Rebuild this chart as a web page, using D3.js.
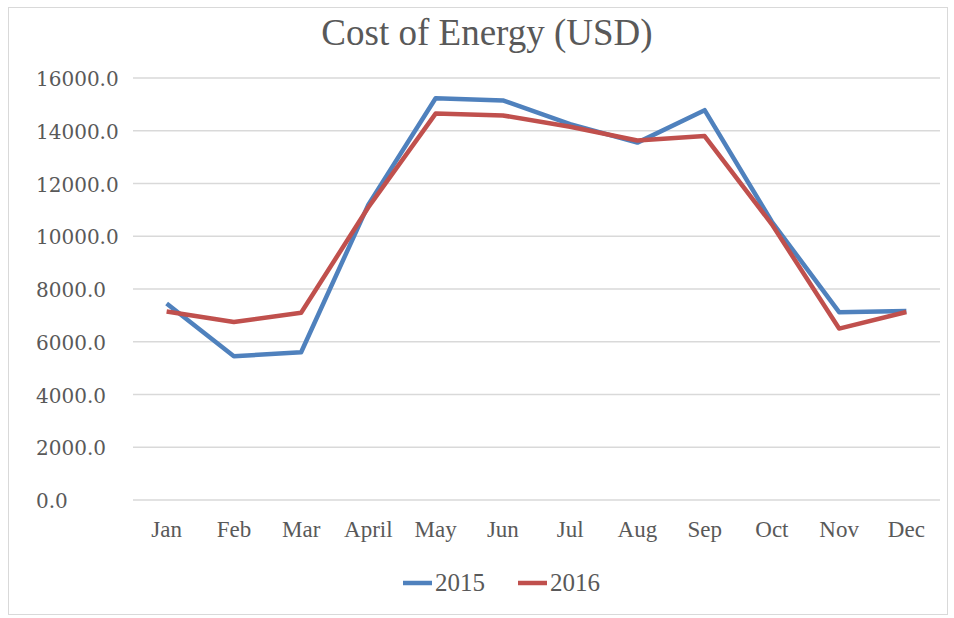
<!DOCTYPE html>
<html><head><meta charset="utf-8">
<script src="https://cdn.jsdelivr.net/npm/d3@7"></script>
<style>body{margin:0;background:#fff}svg{display:block}</style>
</head><body>
<svg id="c" width="954" height="618"></svg>
<script>
const months = ["Jan","Feb","Mar","April","May","Jun","Jul","Aug","Sep","Oct","Nov","Dec"];
const values2015 = [7450, 5450, 5600, 11200, 15230, 15150, 14250, 13550, 14780, 10550, 7120, 7170];
const values2016 = [7150, 6750, 7100, 11100, 14650, 14580, 14150, 13630, 13800, 10450, 6500, 7130];
const seriesNames = ["2015","2016"];
const seriesColors = ["#4F81BD","#C0504D"];
const yTicks = [0,2000,4000,6000,8000,10000,12000,14000,16000];

const svg = d3.select("#c");
const font = "'Liberation Serif', 'DejaVu Serif', serif";
const numFont = "'DejaVu Serif', 'Liberation Serif', serif";
svg.append("rect").attr("x",8.5).attr("y",7.5).attr("width",939).attr("height",607)
  .attr("fill","#fff").attr("stroke","#d9d9d9").attr("stroke-width",1);

const x = d3.scaleBand().domain(months).range([133,940]);
const y = d3.scaleLinear().domain([0,16000]).range([500,78]);

// gridlines
svg.append("g").selectAll("line").data(yTicks).join("line")
  .attr("x1",133).attr("x2",940).attr("y1",d=>y(d)).attr("y2",d=>y(d))
  .attr("stroke","#d9d9d9").attr("stroke-width",1.5);

// y axis labels (left aligned, as in the reference)
const yAxis = d3.axisLeft(y).tickValues(yTicks).tickFormat(d3.format(".1f")).tickSize(0).tickPadding(0);
const gy = svg.append("g").attr("transform","translate(36,0)").call(yAxis);
gy.select(".domain").remove();
gy.selectAll("text").attr("font-family",numFont).attr("font-size",20).attr("fill","#595959")
  .attr("text-anchor","start").attr("x",0).attr("dy","0.38em");

// x axis labels
const xAxis = d3.axisBottom(x).tickSize(0).tickPadding(0);
const gx = svg.append("g").attr("transform","translate(0,537)").call(xAxis);
gx.select(".domain").remove();
gx.selectAll("text").attr("font-family",font).attr("font-size",23).attr("fill","#595959")
  .attr("y",0).attr("dy","0");

const line = d3.line().x((d,i)=>x(months[i])+x.bandwidth()/2).y(d=>y(d));
[values2015, values2016].forEach((vals,k)=>{
  svg.append("path").datum(vals).attr("d",line).attr("fill","none")
    .attr("stroke",seriesColors[k]).attr("stroke-width",4.5).attr("stroke-linejoin","round");
});

// title
svg.append("text").attr("x",487).attr("y",45).attr("text-anchor","middle")
  .attr("font-family",font).attr("font-size",37).attr("fill","#595959")
  .text("Cost of Energy (USD)");

// legend
const legX = [403, 518];
seriesNames.forEach((n,k)=>{
  svg.append("line").attr("x1",legX[k]).attr("x2",legX[k]+29).attr("y1",583).attr("y2",583)
    .attr("stroke",seriesColors[k]).attr("stroke-width",4.5);
  svg.append("text").attr("x",legX[k]+32).attr("y",591).attr("font-family",font)
    .attr("font-size",25).attr("fill","#595959").text(n);
});
</script>
</body></html>
